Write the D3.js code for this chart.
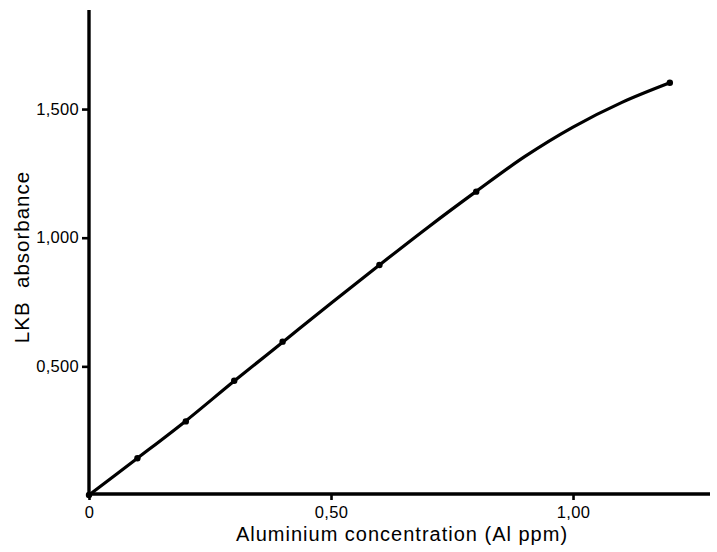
<!DOCTYPE html>
<html>
<head>
<meta charset="utf-8">
<script src="https://cdn.jsdelivr.net/npm/d3@7/dist/d3.min.js"></script>
<style>
  html, body { margin: 0; padding: 0; background: #fff; }
  svg { display: block; }
  text { font-family: "Liberation Sans", Arial, Helvetica, sans-serif; fill: #000; }
</style>
</head>
<body>
<svg id="chart" width="717" height="552"></svg>
<script>
// ---- data ----
const pointX = [0, 0.1, 0.2, 0.3, 0.4, 0.6, 0.8, 1.2];
const pointY = [0, 0.143, 0.286, 0.444, 0.596, 0.894, 1.179, 1.602];
const curveX = [0, 0.1, 0.2, 0.3, 0.4, 0.5, 0.6, 0.7, 0.8, 0.9, 1.0, 1.1, 1.2];
const curveY = [0, 0.143, 0.288, 0.443, 0.594, 0.745, 0.894, 1.040, 1.180, 1.315, 1.430, 1.525, 1.602];
const xTicks = [0, 0.5, 1.0];
const xTickLabels = ["0", "0,50", "1,00"];
const yTicks = [0.5, 1.0, 1.5];
const yTickLabels = ["0,500", "1,000", "1,500"];
const xTitle = "Aluminium concentration (Al ppm)";
const yTitle = "LKB  absorbance";

// ---- drawing ----
const svg = d3.select("#chart");
const plotLeft = 89, plotRight = 710, plotTop = 10, plotBottom = 495;
const x = d3.scaleLinear().domain([0, 1.283]).range([plotLeft, plotRight]);
const y = d3.scaleLinear().domain([0, 1.885]).range([plotBottom, plotTop]);

const xAxis = d3.axisBottom(x).tickValues(xTicks)
  .tickFormat((d, i) => xTickLabels[i]).tickSize(6).tickPadding(6).tickSizeOuter(0);
const yAxis = d3.axisLeft(y).tickValues(yTicks)
  .tickFormat((d, i) => yTickLabels[i]).tickSize(7).tickPadding(3).tickSizeOuter(0);

const gx = svg.append("g").attr("transform", `translate(0,${plotBottom - 1})`).call(xAxis);
const gy = svg.append("g").attr("transform", `translate(${plotLeft},0)`).call(yAxis);

[gx, gy].forEach(g => {
  g.select(".domain").attr("stroke", "#000").attr("stroke-width", 3.4);
  g.selectAll(".tick line").attr("stroke", "#000").attr("stroke-width", 2.6);
  g.selectAll(".tick text").attr("font-size", 16.5).attr("fill", "#000")
    .attr("font-family", "'Liberation Sans', Arial, sans-serif").style("letter-spacing", "0.3px");
});
gy.select(".domain").attr("d", `M0,${plotBottom}V${plotTop}`);
gx.select(".domain").attr("d", `M${plotLeft},0H${plotRight}`);

// fitted curve
const curveData = curveX.map((v, i) => [v, curveY[i]]);
svg.append("path")
  .datum(curveData)
  .attr("fill", "none")
  .attr("stroke", "#000")
  .attr("stroke-width", 3.2)
  .attr("stroke-linecap", "round")
  .attr("d", d3.line().x(d => x(d[0])).y(d => y(d[1])).curve(d3.curveCatmullRom.alpha(0.5)));

// measured points
svg.append("g").selectAll("circle")
  .data(pointX.map((v, i) => [v, pointY[i]]))
  .join("circle")
  .attr("cx", d => x(d[0]))
  .attr("cy", d => y(d[1]))
  .attr("r", 3.2)
  .attr("fill", "#000");

// axis titles
svg.append("text")
  .attr("x", 402).attr("y", 541)
  .attr("text-anchor", "middle")
  .attr("font-size", 20)
  .style("letter-spacing", "1px")
  .text(xTitle);

svg.append("text")
  .attr("transform", `translate(29,257) rotate(-90)`)
  .attr("text-anchor", "middle")
  .attr("font-size", 20.5)
  .style("letter-spacing", "1px")
  .style("white-space", "pre")
  .text(yTitle);
</script>
</body>
</html>
